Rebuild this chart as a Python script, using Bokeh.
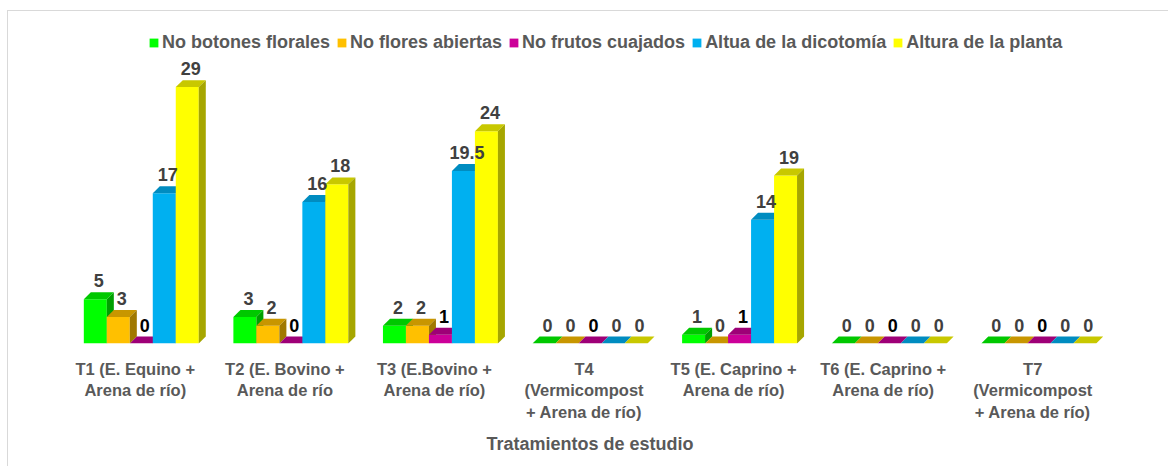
from bokeh.plotting import figure
from bokeh.models import ColumnDataSource, FixedTicker, Legend, LegendItem, Range1d
from bokeh.core.properties import value
from bokeh.embed import file_html
from bokeh.resources import INLINE

categories = ["T1 (E. Equino +\nArena de río)", "T2 (E. Bovino +\nArena de río",
              "T3 (E.Bovino +\nArena de río)", "T4\n(Vermicompost\n+ Arena de río)",
              "T5 (E. Caprino +\nArena de río)", "T6 (E. Caprino +\nArena de río)",
              "T7\n(Vermicompost\n+ Arena de río)"]
series = ["No botones florales", "No flores abiertas", "No frutos cuajados",
          "Altua de la dicotomía", "Altura de la planta"]
botones = [5, 3, 2, 0, 1, 0, 0]
flores = [3, 2, 2, 0, 0, 0, 0]
frutos = [0, 0, 1, 0, 1, 0, 0]
dicotomia = [17, 16, 19.5, 0, 14, 0, 0]
altura = [29, 18, 24, 0, 19, 0, 0]
values = [botones, flores, frutos, dicotomia, altura]

front_colors = ["#00FF00", "#FFC000", "#CC0099", "#00B0F0", "#FFFF00"]
top_colors = ["#00C800", "#C89600", "#9E0077", "#008CC0", "#C8C800"]
side_colors = ["#00A000", "#A07800", "#800060", "#0074A0", "#A6A600"]
label_colors = ["#404040", "#404040", "#000000", "#404040", "#404040"]

FONT = "Liberation Sans"
W, H = 1161, 456
p = figure(width=W, height=H, output_backend="svg", toolbar_location=None,
           x_range=Range1d(0, 7), y_range=Range1d(0, 35.63),
           min_border_left=58, min_border_right=56, min_border_top=17, min_border_bottom=124)
p.outline_line_color = None
p.grid.visible = False
p.yaxis.visible = False
p.styles = {"border-top": "1px solid #d9d9d9", "border-left": "1px solid #d9d9d9",
            "margin-left": "7px", "margin-top": "10px"}

bw = 0.1537   # bar width (category units)
dx = 0.047    # depth offset x
dy = 0.79     # depth offset y

renderers = []
for s in range(5):
    vals = values[s]
    cx = [i + 0.5 + (s - 2) * bw for i in range(7)]
    left = [c - bw / 2 for c in cx]
    right = [c + bw / 2 for c in cx]
    src = ColumnDataSource(dict(left=left, right=right, top=vals, bottom=[0] * 7))
    r = p.quad(left="left", right="right", top="top", bottom="bottom", source=src,
               fill_color=front_colors[s], line_color=None)
    renderers.append(r)
    top_xs = [[l, rr, rr + dx, l + dx] for l, rr in zip(left, right)]
    top_ys = [[v, v, v + dy, v + dy] for v in vals]
    p.patches(top_xs, top_ys, fill_color=top_colors[s], line_color=None)
    side_xs = [[rr, rr + dx, rr + dx, rr] for rr, v in zip(right, vals) if v > 0]
    side_ys = [[0, dy, v + dy, v] for v in vals if v > 0]
    if side_xs:
        p.patches(side_xs, side_ys, fill_color=side_colors[s], line_color=None)

# data labels
for s in range(5):
    vals = values[s]
    cx = [i + 0.5 + (s - 2) * bw + dx / 2 for i in range(7)]
    txt = [("%g" % v) for v in vals]
    ly = [v + dy + 1.3 for v in vals]
    p.text(x=cx, y=ly, text=txt, text_align="center", text_baseline="middle",
           text_font=value(FONT), text_font_style="bold", text_font_size="18px",
           text_color=label_colors[s])

legend = Legend(items=[LegendItem(label=series[s], renderers=[renderers[s]]) for s in range(5)],
                orientation="horizontal", location=(82, 290),
                label_text_font=FONT, label_text_font_style="bold",
                label_text_font_size="18px", label_text_color="#595959",
                glyph_width=11, glyph_height=11, label_standoff=3, spacing=6,
                padding=0, margin=0, border_line_color=None, background_fill_alpha=0)
p.add_layout(legend, "center")

ax = p.xaxis[0]
tick_pos = [i + 0.46 for i in range(7)]
ax.ticker = FixedTicker(ticks=tick_pos)
ax.major_label_overrides = {t: c for t, c in zip(tick_pos, categories)}
ax.axis_line_color = None
ax.major_tick_line_color = None
ax.minor_tick_line_color = None
ax.major_label_text_font = FONT
ax.major_label_text_font_style = "bold"
ax.major_label_text_font_size = "16.5px"
ax.major_label_text_color = "#595959"
ax.major_label_standoff = 10
ax.axis_label = "Tratamientos de estudio"
ax.axis_label_text_font = FONT
ax.axis_label_text_font_style = "bold"
ax.axis_label_text_font_size = "18px"
ax.axis_label_text_color = "#595959"
ax.axis_label_standoff = 10

open("out.html", "w").write(file_html(p, INLINE))
